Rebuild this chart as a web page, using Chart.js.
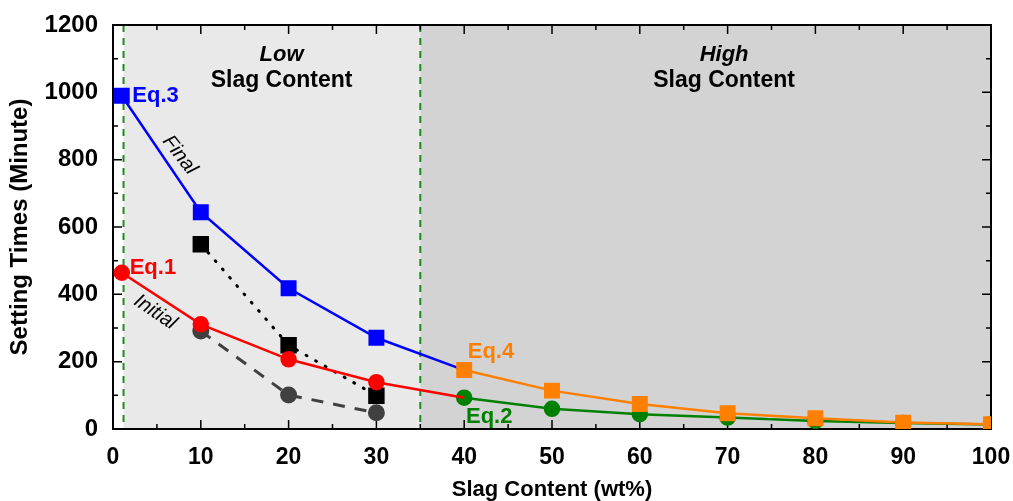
<!DOCTYPE html>
<html>
<head>
<meta charset="utf-8">
<script src="https://cdn.jsdelivr.net/npm/chart.js@4/dist/chart.umd.min.js"></script>
<style>
  html, body { margin: 0; padding: 0; background: #fff; }
  #wrap { width: 1013px; height: 501px; }
</style>
</head>
<body>
<div id="wrap"><canvas id="setting" width="1013" height="501"></canvas></div>
<script>
// slag content (wt%) and setting times (minutes)
const lowSlag = [1, 10, 20, 30, 40];
const highSlag = [40, 50, 60, 70, 80, 90, 100];
const finalEq3 = [990, 644, 418, 271, 175];
const initialEq1 = [464, 311, 207, 139, 93];
const finalEq4 = [175, 114, 74, 47, 32, 19, 14];
const initialEq2 = [93, 60, 44, 34, 24, 18, 13];

// measured points
const measuredSlag = [10, 20, 30];
const measuredFinal = [549, 249, 99];
const measuredInitial = [291, 101, 48];

const xTicks = [0, 10, 20, 30, 40, 50, 60, 70, 80, 90, 100];
const yTicks = [0, 200, 400, 600, 800, 1000, 1200];

const lowLimit = 1.2;
const highLimit = 35;

const pts = (xs, ys) => xs.map((x, i) => ({ x: x, y: ys[i] }));
const FONT = "'Liberation Sans', Arial, sans-serif";

const regions = {
  id: 'regions',
  beforeDatasetsDraw(chart) {
    const { ctx, chartArea: a, scales: { x, y } } = chart;
    const xl = x.getPixelForValue(lowLimit);
    const xh = x.getPixelForValue(highLimit);
    ctx.save();
    ctx.fillStyle = '#e9e9e9';
    ctx.fillRect(xl, a.top, xh - xl, a.bottom - a.top);
    ctx.fillStyle = '#d3d3d3';
    ctx.fillRect(xh, a.top, a.right - xh, a.bottom - a.top);

    ctx.strokeStyle = '#1f8c1f';
    ctx.lineWidth = 2;
    ctx.setLineDash([7, 6]);
    [xl, xh].forEach(px => {
      ctx.beginPath();
      ctx.moveTo(px, a.top);
      ctx.lineTo(px, a.bottom);
      ctx.stroke();
    });
    ctx.setLineDash([]);

    // frame with inward ticks on all sides
    ctx.strokeStyle = '#000';
    ctx.lineWidth = 2;
    ctx.strokeRect(a.left, a.top, a.right - a.left, a.bottom - a.top);
    ctx.lineWidth = 1.5;
    for (let v = 0; v <= 100; v += 5) {
      const px = x.getPixelForValue(v);
      const len = v % 10 === 0 ? 9 : 5;
      ctx.beginPath();
      ctx.moveTo(px, a.bottom); ctx.lineTo(px, a.bottom - len);
      ctx.moveTo(px, a.top); ctx.lineTo(px, a.top + len);
      ctx.stroke();
    }
    for (let v = 0; v <= 1200; v += 100) {
      const py = y.getPixelForValue(v);
      const len = v % 200 === 0 ? 9 : 5;
      ctx.beginPath();
      ctx.moveTo(a.left, py); ctx.lineTo(a.left + len, py);
      ctx.moveTo(a.right, py); ctx.lineTo(a.right - len, py);
      ctx.stroke();
    }
    ctx.restore();
  }
};

const notes = {
  id: 'notes',
  afterDatasetsDraw(chart) {
    const { ctx, scales: { x, y } } = chart;
    ctx.save();
    ctx.textBaseline = 'middle';

    const put = (txt, vx, vy, color, font, align) => {
      ctx.font = font;
      ctx.fillStyle = color;
      ctx.textAlign = align || 'left';
      ctx.fillText(txt, x.getPixelForValue(vx), y.getPixelForValue(vy));
    };
    put('Eq.3', 2.2, 990, '#0000ff', 'bold 22px ' + FONT);
    put('Eq.1', 1.9, 478, '#ff0000', 'bold 22px ' + FONT);
    put('Eq.4', 40.4, 228, '#ff8000', 'bold 22px ' + FONT);
    put('Eq.2', 40.2, 36, '#008000', 'bold 22px ' + FONT);

    put('Low', 19.2, 1110, '#000', 'italic bold 22px ' + FONT, 'center');
    put('Slag Content', 19.2, 1035, '#000', 'bold 23px ' + FONT, 'center');
    put('High', 69.6, 1110, '#000', 'italic bold 22px ' + FONT, 'center');
    put('Slag Content', 69.6, 1035, '#000', 'bold 23px ' + FONT, 'center');

    const rot = (txt, vx, vy, deg) => {
      ctx.save();
      ctx.translate(x.getPixelForValue(vx), y.getPixelForValue(vy));
      ctx.rotate(deg * Math.PI / 180);
      ctx.font = 'italic 20px ' + FONT;
      ctx.fillStyle = '#000';
      ctx.textAlign = 'center';
      ctx.fillText(txt, 0, 0);
      ctx.restore();
    };
    rot('Final', 7.6, 814, 52);
    rot('Initial', 4.8, 347, 34);
    ctx.restore();
  }
};

new Chart(document.getElementById('setting'), {
  type: 'scatter',
  data: {
    datasets: [
      {
        data: pts(highSlag, finalEq4),
        showLine: true, borderColor: '#ff8000', backgroundColor: '#ff8000',
        borderWidth: 2.5, pointStyle: 'rect', pointRadius: 9.5
      },
      {
        data: pts(lowSlag, finalEq3),
        showLine: true, borderColor: '#0000ff', backgroundColor: '#0000ff',
        borderWidth: 2.5, pointStyle: 'rect', pointRadius: [9.5, 9.5, 9.5, 9.5, 0]
      },
      {
        data: pts(lowSlag, initialEq1),
        showLine: true, borderColor: '#ff0000', backgroundColor: '#ff0000',
        borderWidth: 2.5, pointStyle: 'circle', pointRadius: [7, 7, 7, 7, 0]
      },
      {
        data: pts(highSlag, initialEq2),
        showLine: true, borderColor: '#008000', backgroundColor: '#008000',
        borderWidth: 2.5, pointStyle: 'circle', pointRadius: 7
      },
      {
        data: pts(measuredSlag, measuredFinal),
        showLine: true, borderColor: '#000', backgroundColor: '#000',
        borderWidth: 3, borderDash: [1, 10], borderCapStyle: 'round',
        pointStyle: 'rect', pointRadius: 9.5
      },
      {
        data: pts(measuredSlag, measuredInitial),
        showLine: true, borderColor: '#404040', backgroundColor: '#404040',
        borderWidth: 3, borderDash: [12, 10],
        pointStyle: 'circle', pointRadius: 7
      }
    ]
  },
  options: {
    responsive: false,
    animation: false,
    layout: { padding: { top: 25, right: 22, left: 0, bottom: 0 } },
    plugins: { legend: { display: false }, tooltip: { enabled: false } },
    elements: { point: { borderWidth: 0 }, line: { tension: 0 } },
    scales: {
      x: {
        type: 'linear', min: 0, max: 100,
        grid: { display: false }, border: { display: false },
        afterFit(s) { s.height = 72; s.paddingLeft = 0; s.paddingRight = 0; },
        afterBuildTicks(s) { s.ticks = xTicks.map(v => ({ value: v })); },
        ticks: { color: '#000', padding: 7, maxRotation: 0,
                 callback: v => String(v),
                 font: { family: FONT, size: 23, weight: 'bold' } },
        title: { display: true, text: 'Slag Content (wt%)', color: '#000',
                 padding: { top: 0, bottom: -2 },
                 font: { family: FONT, size: 22, weight: 'bold' } }
      },
      y: {
        type: 'linear', min: 0, max: 1200,
        grid: { display: false }, border: { display: false },
        afterFit(s) { s.width = 113; },
        afterBuildTicks(s) { s.ticks = yTicks.map(v => ({ value: v })); },
        ticks: { color: '#000', padding: 7,
                 callback: v => String(v),
                 font: { family: FONT, size: 24, weight: 'bold' } },
        title: { display: true, text: 'Setting Times (Minute)', color: '#000',
                 padding: { top: 6, bottom: 0 },
                 font: { family: FONT, size: 24, weight: 'bold' } }
      }
    }
  },
  plugins: [regions, notes]
});
</script>
</body>
</html>
